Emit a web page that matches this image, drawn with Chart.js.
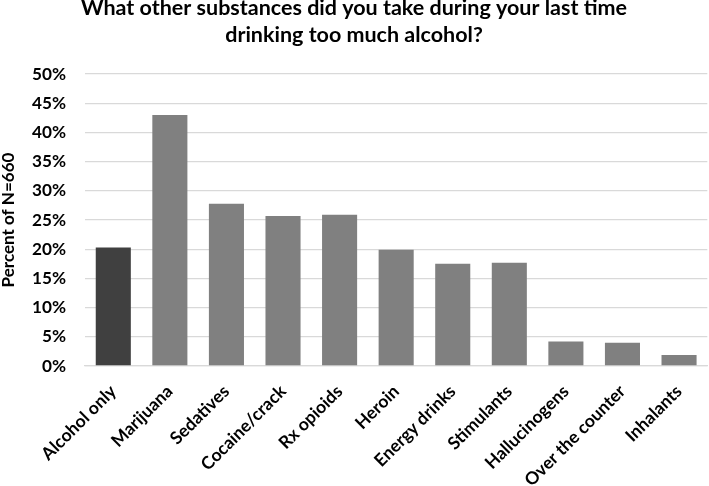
<!DOCTYPE html>
<html><head><meta charset="utf-8">
<script src="https://cdn.jsdelivr.net/npm/chart.js@4"></script>
<style>html,body{margin:0;padding:0;background:#fff}#wrap{width:709px;height:486px}</style>
</head><body><div id="wrap"><canvas id="c"></canvas></div>
<script>
const categories = ["Alcohol only","Marijuana","Sedatives","Cocaine/crack","Rx opioids","Heroin","Energy drinks","Stimulants","Hallucinogens","Over the counter","Inhalants"];
const percentValues = [20.3, 43.0, 27.8, 25.7, 25.9, 19.9, 17.5, 17.7, 4.2, 4.0, 1.9];
const yTicks = [0,5,10,15,20,25,30,35,40,45,50];
const titleLines = ["What other substances did you take during your last time","drinking too much alcohol?"];
const yTitle = "Percent of N=660";
const FONT = "Lato, 'Open Sans', sans-serif";
const mctx = document.createElement('canvas').getContext('2d');
function fitSize(text, target) { mctx.font = 'bold 100px ' + FONT; return 100 * target / mctx.measureText(text).width; }
const titleSize = fitSize(titleLines[0], 546);
const yTitleSize = fitSize(yTitle, 135);
const xTickSize = fitSize("Over the counter", 134);
const yTickSize = fitSize("40%", 34);
new Chart(document.getElementById('c'), {
  type: 'bar',
  data: { labels: categories, datasets: [{ data: percentValues,
    backgroundColor: categories.map((c,i)=> i===0 ? '#404040' : '#808080'),
    borderWidth: 0, barPercentage: 0.62, categoryPercentage: 1 }] },
  options: {
    responsive: true, maintainAspectRatio: false, animation: false,
    layout: { padding: { left: 0, right: 1, top: -5, bottom: 0 } },
    plugins: { legend: { display: false }, tooltip: { enabled: false },
      title: { display: true, text: titleLines, color: '#000', font: { family: FONT, size: titleSize, weight: 'bold', lineHeight: 27 / titleSize }, padding: { top: 0, bottom: 25 } } },
    scales: {
      x: { grid: { display: false, drawTicks: false }, border: { color: '#d9d9d9', width: 1.3 },
        afterFit: s => { s.height = 120; },
        ticks: { minRotation: 45, maxRotation: 45, color: '#000', padding: 15, font: { family: FONT, size: xTickSize, weight: 'bold' } } },
      y: { min: 0, max: 50, afterBuildTicks: ax => { ax.ticks = yTicks.map(v => ({ value: v })); },
        afterFit: s => { s.width = 85; },
        grid: { color: '#d9d9d9', lineWidth: 1.3, drawTicks: false }, border: { display: false },
        ticks: { color: '#000', padding: 19, callback: v => v + '%', font: { family: FONT, size: yTickSize, weight: 'bold' } },
        title: { display: true, text: yTitle, color: '#000', padding: { top: 0, bottom: 0 }, font: { family: FONT, size: yTitleSize, weight: 'bold', lineHeight: 1.0 } } }
    }
  }
});
</script></body></html>
